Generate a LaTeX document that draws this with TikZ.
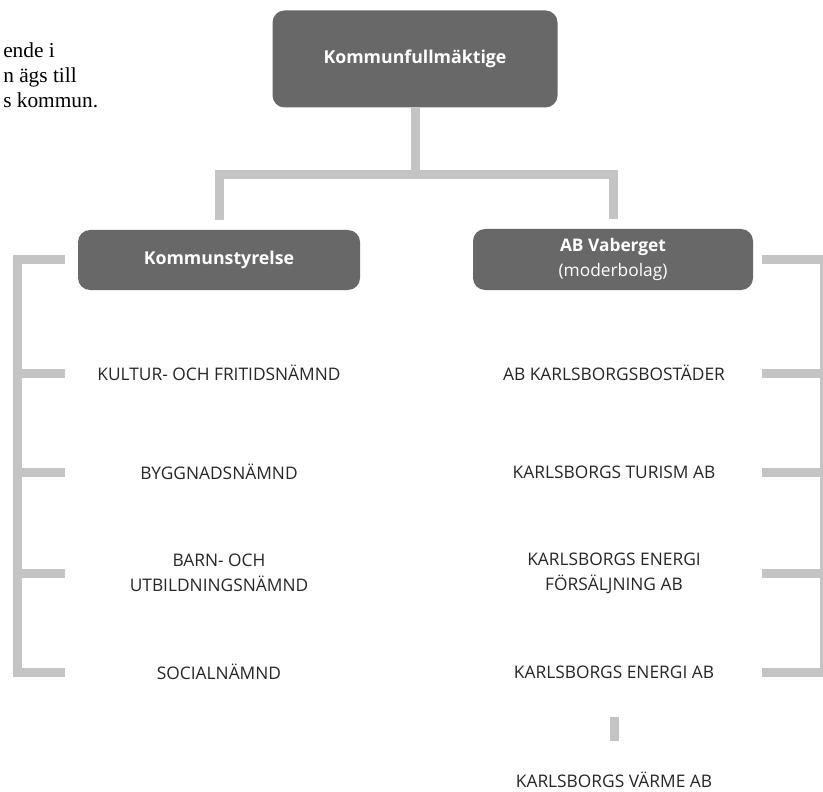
\documentclass[tikz,border=0pt]{standalone}
\usepackage{fontspec}
\setmainfont{Open Sans}
\newfontfamily\introfont{Liberation Serif}
\definecolor{boxgray}{RGB}{104,104,104}
\definecolor{linegray}{RGB}{196,196,196}
\tikzstyle{org} = [rectangle, rounded corners=9pt, fill=boxgray, text=white,
align=center, inner sep=2pt]
\tikzstyle{unit} = [align=center, inner sep=2pt, text=black!85,
font=\fontsize{13}{18.75}\selectfont]
\tikzstyle{conn} = [draw=linegray, line width=6.75pt]
\newcommand{\branch}[3]{ %
  % Stubs from bar #1 to end #2 at the height of every node in #3.
  \foreach \y in {#3} { %
    \draw[conn] (#1 |- \y) -- (#2 |- \y) ;%
  } ;
}

\begin{document}
\begin{tikzpicture}[x=0.75pt,y=-0.75pt]
  \useasboundingbox (0,0) rectangle (823,791);
  \clip (0,0) rectangle (823,791);

  \node[anchor=north west, inner sep=0pt, align=left,
    font=\introfont\fontsize{16}{18.75}\selectfont] (intro) at (3,42)
    {ende i\\n ägs till\\s kommun.};

  \node[org, minimum width=213.75pt, minimum height=72.75pt,
    font=\bfseries\fontsize{13.3}{16}\selectfont] (kf) at (415,59) {Kommunfullmäktige};
  \node[org, minimum width=211.5pt, minimum height=45pt,
    font=\bfseries\fontsize{13.3}{16}\selectfont] (ks) at (219,260) {Kommunstyrelse};
  \node[org, minimum width=210pt, minimum height=45.75pt,
    font=\fontsize{13}{18.75}\selectfont] (ab) at (613,259.5)
    {\textbf{AB Vaberget}\\(moderbolag)};

  % left column
  \node[unit] (kultur) at (219,373) {KULTUR- OCH FRITIDSNÄMND};
  \node[unit] (bygg) at (219,472) {BYGGNADSNÄMND};
  \node[unit] (barn) at (219,573) {BARN- OCH\\UTBILDNINGSNÄMND};
  \node[unit] (social) at (219,672) {SOCIALNÄMND};

  % right column
  \node[unit] (bost) at (614,373) {AB KARLSBORGSBOSTÄDER};
  \node[unit] (turism) at (614,472) {KARLSBORGS TURISM AB};
  \node[unit] (forsalj) at (614,573) {KARLSBORGS ENERGI\\FÖRSÄLJNING AB};
  \node[unit] (energi) at (614,672) {KARLSBORGS ENERGI AB};
  \node[unit] (varme) at (614,780) {KARLSBORGS VÄRME AB};

  \coordinate (split) at (415,175);
  \coordinate (lbar) at (17.5,0);
  \coordinate (lend) at (65,0);
  \coordinate (rbar) at (824,0);
  \coordinate (rend) at (762,0);

  \draw[conn] (kf) -- (split);
  \draw[conn, shorten <=7.5pt, shorten >=7.5pt] (ks) |- (split) -| (ab);

  \draw[conn, line cap=rect] (lbar |- ks) -- (lbar |- social);
  \branch{lbar}{lend}{ks,kultur,bygg,barn,social}
  \draw[conn, line cap=rect] (rbar |- ab) -- (rbar |- energi);
  \branch{rbar}{rend}{ab,bost,turism,forsalj,energi}

  \draw[conn, shorten <=27pt, shorten >=21pt] (energi) -- (varme);
\end{tikzpicture}
\end{document}
